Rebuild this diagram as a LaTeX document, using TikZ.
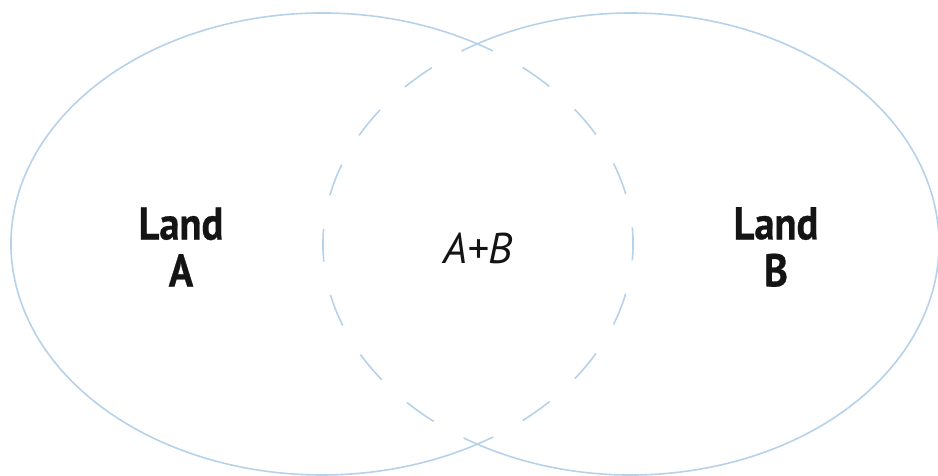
\documentclass[tikz,border=0pt]{standalone}
\usepackage{fontspec}
\setmainfont{PT Sans}
\newfontfamily\landfont{PT Sans}[FakeStretch=0.88, FakeBold=0.6]
\definecolor{lineblue}{HTML}{B6D2EA}

\begin{document}
\begin{tikzpicture}[x=1pt,y=1pt]
\tikzset{rim/.style={line width=1.6pt, lineblue},
  overlap/.style={rim, dash pattern=on 33pt off 34pt, dash phase=16pt},
  landlabel/.style={align=center, font=\landfont\bfseries\fontsize{46}{47}\selectfont, text=black!92}}
\useasboundingbox (0,0) rectangle (938,476);
% land A, outer part solid, part inside B dashed
\draw[rim] (322,232) ++(60:311 and 231) arc[start angle=60, end angle=300, x radius=311, y radius=231];
\draw[overlap] (322,232) ++(-60:311 and 231) arc[start angle=-60, end angle=60, x radius=311, y radius=231];
% land B
\draw[rim] (631,232) ++(-120:308 and 231) arc[start angle=-120, end angle=120, x radius=308, y radius=231];
\draw[overlap] (631,232) ++(120:308 and 231) arc[start angle=120, end angle=240, x radius=308, y radius=231];
\node[landlabel] (landA) at (181,229) {Land\\A};
\node[landlabel] (landB) at (776,229) {Land\\B};
\node[font=\itshape\fontsize{43}{47}\selectfont, text=black!92] (both) at (478,228) {A+B};
\end{tikzpicture}
\end{document}
